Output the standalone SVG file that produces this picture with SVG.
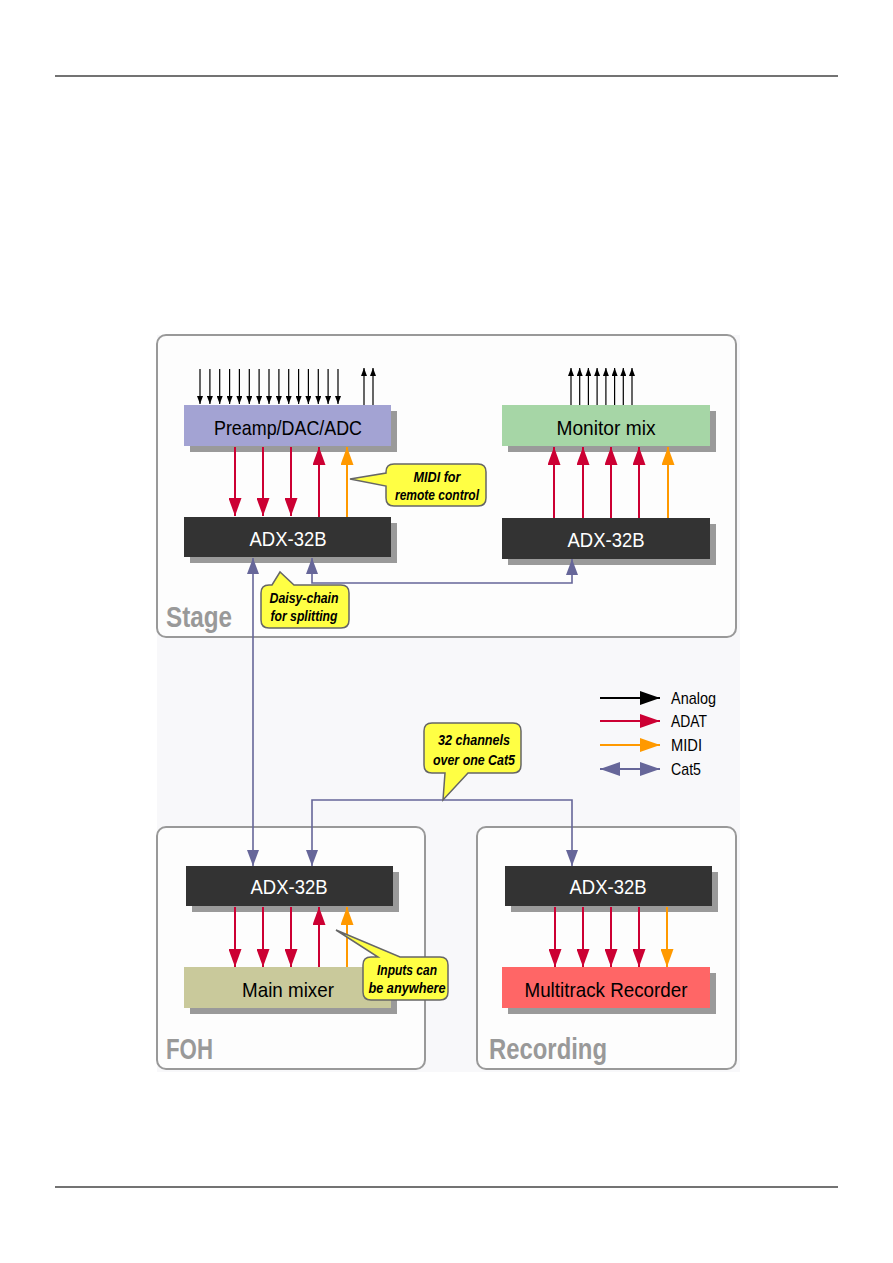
<svg xmlns="http://www.w3.org/2000/svg" width="893" height="1263" viewBox="0 0 893 1263">
<style>
.panel{fill:#fdfdfd;stroke:#999;stroke-width:2}
.plabel{font-family:"Liberation Sans",Arial,sans-serif;font-weight:bold;font-size:29px;fill:#999}
.shadow{fill:#9a9a9a}
.lbl{font-family:"Liberation Sans",Arial,sans-serif;font-size:21px;text-anchor:middle;dominant-baseline:central}
.dark{fill:#333}
.call{fill:#ffff44;stroke:#666;stroke-width:1.5}
.ctext{font-family:"Liberation Sans",Arial,sans-serif;font-size:14px;font-weight:bold;font-style:italic;text-anchor:middle;fill:#000}
.leg{font-family:"Liberation Sans",Arial,sans-serif;font-size:17px;fill:#000;dominant-baseline:central}
.an{stroke:#000;stroke-width:1.2;fill:none}
.adat{stroke:#cc0033;stroke-width:2;fill:none}
.midi{stroke:#ff9900;stroke-width:2;fill:none}
.cat{stroke:#666699;stroke-width:1.6;fill:none}
</style>
<defs>
<marker id="mA" markerUnits="userSpaceOnUse" markerWidth="8" markerHeight="6" refX="8" refY="3" orient="auto"><path d="M0,0 L8,3 L0,6 z" fill="#000"/></marker>
<marker id="mR" markerUnits="userSpaceOnUse" markerWidth="18" markerHeight="13" refX="18" refY="6.5" orient="auto"><path d="M0,0 L18,6.5 L0,13 z" fill="#cc0033"/></marker>
<marker id="mO" markerUnits="userSpaceOnUse" markerWidth="18" markerHeight="13" refX="18" refY="6.5" orient="auto"><path d="M0,0 L18,6.5 L0,13 z" fill="#ff9900"/></marker>
<marker id="mC" markerUnits="userSpaceOnUse" markerWidth="16" markerHeight="12" refX="16" refY="6" orient="auto-start-reverse"><path d="M0,0 L16,6 L0,12 z" fill="#666699"/></marker>
<marker id="mLA" markerUnits="userSpaceOnUse" markerWidth="20" markerHeight="14" refX="20" refY="7" orient="auto-start-reverse"><path d="M0,0 L20,7 L0,14 z" fill="#000"/></marker>
<marker id="mLR" markerUnits="userSpaceOnUse" markerWidth="20" markerHeight="14" refX="20" refY="7" orient="auto-start-reverse"><path d="M0,0 L20,7 L0,14 z" fill="#cc0033"/></marker>
<marker id="mLO" markerUnits="userSpaceOnUse" markerWidth="20" markerHeight="14" refX="20" refY="7" orient="auto-start-reverse"><path d="M0,0 L20,7 L0,14 z" fill="#ff9900"/></marker>
<marker id="mLC" markerUnits="userSpaceOnUse" markerWidth="20" markerHeight="14" refX="20" refY="7" orient="auto-start-reverse"><path d="M0,0 L20,7 L0,14 z" fill="#666699"/></marker>
</defs>
<rect width="893" height="1263" fill="#fff"/>
<line x1="55" y1="76" x2="838" y2="76" stroke="#444" stroke-width="1.5"/>
<line x1="55" y1="1187" x2="838" y2="1187" stroke="#444" stroke-width="1.5"/>
<rect x="157" y="335" width="583" height="737" fill="#f8f8fa"/>

<g id="stage-panel"><rect class="panel" x="157" y="335" width="579" height="302" rx="9"/><text class="plabel" x="166" y="627" textLength="66" lengthAdjust="spacingAndGlyphs">Stage</text></g>
<g id="foh-panel"><rect class="panel" x="157" y="827" width="268" height="242" rx="9"/><text class="plabel" x="166" y="1059" textLength="47" lengthAdjust="spacingAndGlyphs">FOH</text></g>
<g id="recording-panel"><rect class="panel" x="477" y="827" width="259" height="242" rx="9"/><text class="plabel" x="489" y="1059" textLength="118" lengthAdjust="spacingAndGlyphs">Recording</text></g>

<g id="preamp"><rect class="shadow" x="190" y="411" width="207" height="41"/><rect x="184" y="405" width="207" height="41" fill="#a3a3d3"/><text class="lbl" x="288" y="427" fill="#000" textLength="148" lengthAdjust="spacingAndGlyphs">Preamp/DAC/ADC</text></g>
<g id="stage-adx"><rect class="shadow" x="190" y="523" width="207" height="40"/><rect class="dark" x="184" y="517" width="207" height="40"/><text class="lbl" x="288" y="538" fill="#fff" textLength="77" lengthAdjust="spacingAndGlyphs">ADX-32B</text></g>
<g id="monitor-mix"><rect class="shadow" x="508" y="411" width="208" height="41"/><rect x="502" y="405" width="208" height="41" fill="#a6d6a6"/><text class="lbl" x="606" y="427" fill="#000" textLength="99" lengthAdjust="spacingAndGlyphs">Monitor mix</text></g>
<g id="monitor-adx"><rect class="shadow" x="508" y="524" width="208" height="41"/><rect class="dark" x="502" y="518" width="208" height="41"/><text class="lbl" x="606" y="539" fill="#fff" textLength="77" lengthAdjust="spacingAndGlyphs">ADX-32B</text></g>
<g id="foh-adx"><rect class="shadow" x="192" y="872" width="207" height="40"/><rect class="dark" x="186" y="866" width="207" height="40"/><text class="lbl" x="289" y="886" fill="#fff" textLength="77" lengthAdjust="spacingAndGlyphs">ADX-32B</text></g>
<g id="main-mixer"><rect class="shadow" x="190" y="973" width="207" height="41"/><rect x="184" y="967" width="207" height="41" fill="#c9c99b"/><text class="lbl" x="288" y="989" fill="#000" textLength="92" lengthAdjust="spacingAndGlyphs">Main mixer</text></g>
<g id="rec-adx"><rect class="shadow" x="511" y="872" width="207" height="40"/><rect class="dark" x="505" y="866" width="207" height="40"/><text class="lbl" x="608" y="886" fill="#fff" textLength="77" lengthAdjust="spacingAndGlyphs">ADX-32B</text></g>
<g id="multitrack"><rect class="shadow" x="508" y="973" width="208" height="41"/><rect x="502" y="967" width="208" height="41" fill="#ff6666"/><text class="lbl" x="606" y="989" fill="#000" textLength="163" lengthAdjust="spacingAndGlyphs">Multitrack Recorder</text></g>

<g id="connectors">
<g marker-end="url(#mA)" class="an">
<line x1="200" y1="369" x2="200" y2="404"/><line x1="209.9" y1="369" x2="209.9" y2="404"/><line x1="219.7" y1="369" x2="219.7" y2="404"/><line x1="229.6" y1="369" x2="229.6" y2="404"/><line x1="239.4" y1="369" x2="239.4" y2="404"/><line x1="249.3" y1="369" x2="249.3" y2="404"/><line x1="259.1" y1="369" x2="259.1" y2="404"/><line x1="269" y1="369" x2="269" y2="404"/><line x1="278.9" y1="369" x2="278.9" y2="404"/><line x1="288.7" y1="369" x2="288.7" y2="404"/><line x1="298.6" y1="369" x2="298.6" y2="404"/><line x1="308.4" y1="369" x2="308.4" y2="404"/><line x1="318.3" y1="369" x2="318.3" y2="404"/><line x1="328.1" y1="369" x2="328.1" y2="404"/><line x1="338" y1="369" x2="338" y2="404"/>
<line x1="364" y1="405" x2="364" y2="368"/><line x1="373" y1="405" x2="373" y2="368"/>
<line x1="571" y1="405" x2="571" y2="368"/><line x1="579.7" y1="405" x2="579.7" y2="368"/><line x1="588.4" y1="405" x2="588.4" y2="368"/><line x1="597.1" y1="405" x2="597.1" y2="368"/><line x1="605.9" y1="405" x2="605.9" y2="368"/><line x1="614.6" y1="405" x2="614.6" y2="368"/><line x1="623.3" y1="405" x2="623.3" y2="368"/><line x1="632" y1="405" x2="632" y2="368"/>
</g>
<g class="adat" marker-end="url(#mR)">
<line x1="235" y1="447" x2="235" y2="516"/><line x1="263" y1="447" x2="263" y2="516"/><line x1="291" y1="447" x2="291" y2="516"/><line x1="319" y1="517" x2="319" y2="447"/>
<line x1="554" y1="518" x2="554" y2="447"/><line x1="583" y1="518" x2="583" y2="447"/><line x1="611" y1="518" x2="611" y2="447"/><line x1="639" y1="518" x2="639" y2="447"/>
<line x1="235" y1="907" x2="235" y2="967"/><line x1="263" y1="907" x2="263" y2="967"/><line x1="291" y1="907" x2="291" y2="967"/><line x1="319" y1="967" x2="319" y2="907"/>
<line x1="555" y1="907" x2="555" y2="967"/><line x1="583" y1="907" x2="583" y2="967"/><line x1="611" y1="907" x2="611" y2="967"/><line x1="639" y1="907" x2="639" y2="967"/>
</g>
<g class="midi" marker-end="url(#mO)">
<line x1="347" y1="517" x2="347" y2="447"/><line x1="668" y1="518" x2="668" y2="447"/><line x1="347" y1="967" x2="347" y2="907"/><line x1="667" y1="907" x2="667" y2="967"/>
</g>
<g class="cat">
<line x1="253" y1="558" x2="253" y2="866" marker-start="url(#mC)" marker-end="url(#mC)"/>
<polyline points="312,558 312,583 572,583 572,559" marker-start="url(#mC)" marker-end="url(#mC)"/>
<polyline points="312,866 312,800 572,800 572,866" marker-start="url(#mC)" marker-end="url(#mC)"/>
</g>
</g>

<g id="callout-midi"><path class="call" d="M394,464 H478 Q486,464 486,472 V498 Q486,506 478,506 H394 Q386,506 386,498 V486 L350,479 L386,473 V472 Q386,464 394,464 Z"/><text class="ctext" x="437" y="482" textLength="47" lengthAdjust="spacingAndGlyphs">MIDI for</text><text class="ctext" x="437" y="500" textLength="84" lengthAdjust="spacingAndGlyphs">remote control</text></g>
<g id="callout-daisy"><path class="call" d="M269,585 H272 L280,572 L294,585 H341 Q349,585 349,593 V620 Q349,628 341,628 H269 Q261,628 261,620 V593 Q261,585 269,585 Z"/><text class="ctext" x="304" y="603" textLength="69" lengthAdjust="spacingAndGlyphs">Daisy-chain</text><text class="ctext" x="304" y="621" textLength="67" lengthAdjust="spacingAndGlyphs">for splitting</text></g>
<g id="callout-32"><path class="call" d="M432,723 H513 Q521,723 521,731 V765 Q521,773 513,773 H468 L443,800 L445,773 H432 Q424,773 424,765 V731 Q424,723 432,723 Z"/><text class="ctext" x="474" y="745" textLength="72" lengthAdjust="spacingAndGlyphs">32 channels</text><text class="ctext" x="474" y="765" textLength="82" lengthAdjust="spacingAndGlyphs">over one Cat5</text></g>
<g id="callout-inputs"><path class="call" d="M371,957 H378 L336,930 L400,957 H440 Q448,957 448,965 V992 Q448,1000 440,1000 H371 Q363,1000 363,992 V965 Q363,957 371,957 Z"/><text class="ctext" x="407" y="975" textLength="60" lengthAdjust="spacingAndGlyphs">Inputs can</text><text class="ctext" x="407" y="993" textLength="77" lengthAdjust="spacingAndGlyphs">be anywhere</text></g>

<g id="legend">
<line x1="600" y1="698" x2="660" y2="698" stroke="#000" stroke-width="2" marker-end="url(#mLA)"/>
<line x1="600" y1="721" x2="660" y2="721" stroke="#cc0033" stroke-width="2" marker-end="url(#mLR)"/>
<line x1="600" y1="745" x2="660" y2="745" stroke="#ff9900" stroke-width="2" marker-end="url(#mLO)"/>
<line x1="600" y1="769" x2="660" y2="769" stroke="#666699" stroke-width="2" marker-start="url(#mLC)" marker-end="url(#mLC)"/>
<text class="leg" x="671" y="698" textLength="45" lengthAdjust="spacingAndGlyphs">Analog</text>
<text class="leg" x="671" y="721" textLength="36" lengthAdjust="spacingAndGlyphs">ADAT</text>
<text class="leg" x="671" y="745" textLength="31" lengthAdjust="spacingAndGlyphs">MIDI</text>
<text class="leg" x="671" y="769" textLength="30" lengthAdjust="spacingAndGlyphs">Cat5</text>
</g>
</svg>
